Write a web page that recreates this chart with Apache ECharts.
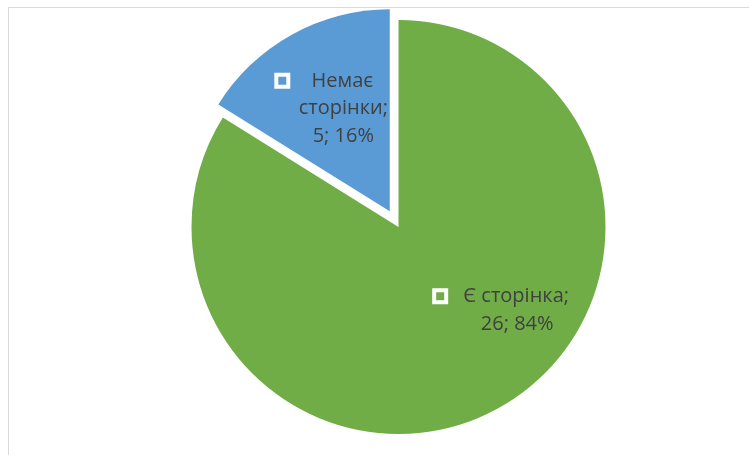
<!DOCTYPE html>
<html>
<head>
<meta charset="utf-8">
<script src="https://cdn.jsdelivr.net/npm/echarts@6/dist/echarts.min.js"></script>
<style>
  html, body { margin: 0; padding: 0; width: 749px; height: 455px; overflow: hidden; background: #fff; }
  #frame { position: absolute; left: 8px; top: 7px; width: 900px; height: 600px; border: 1px solid #d9d9d9; }
  #pieDom { position: absolute; left: 0; top: 0; width: 749px; height: 455px; }
</style>
</head>
<body>
<div id="frame"></div>
<div id="pieDom"></div>
<script>
// дані
const categories = ['Є сторінка', 'Немає\nсторінки'];
const values = [26, 5];
const colors = ['#70ad47', '#5b9bd5'];

const pieDom = document.getElementById('pieDom');
const chart = echarts.init(pieDom);

// ширина текстового блоку і відступ від маркера для кожного підпису
const textWidth = [108, 88];
const boxGap = [16, 10];
const labelShift = [[67, -10], [4, -12]];

const makeLabel = (idx) => ({
    show: true,
    position: 'inside',
    color: '#404040',
    fontFamily: 'Open Sans',
    fontSize: 20,
    lineHeight: 27.5,
    formatter: (params) => {
        const lines = (params.name + ';').split('\n');
        lines.push(params.value + '; ' + Math.round(params.percent) + '%');
        return lines.map((l, i) => i === 0
            ? '{box|}{gap|}{t|' + l + '}{pad|}'
            : '{t|' + l + '}').join('\n');
    },
    rich: {
        box: { width: 12, height: 12, borderColor: '#fff', borderWidth: 4 },
        gap: { width: boxGap[idx] },
        pad: { width: boxGap[idx] + 14 },
        t: { width: textWidth[idx], align: 'center', color: '#404040', fontFamily: 'Open Sans', fontSize: 20, lineHeight: 27.5 },
    },
});

const hidden = { itemStyle: { color: 'rgba(0,0,0,0)' }, label: { show: false }, emphasis: { disabled: true } };

const option = {
    animation: false,
    series: [
        {
            // зелений сектор
            type: 'pie',
            center: [398.5, 227],
            radius: 207,
            startAngle: 90,
            silent: true,
            labelLayout: () => ({ dx: labelShift[0][0], dy: labelShift[0][1] }),
            data: [
                { name: categories[0], value: values[0], itemStyle: { color: colors[0] }, label: makeLabel(0) },
                Object.assign({ name: categories[1], value: values[1] }, hidden),
            ],
        },
        {
            // висунутий синій сектор
            type: 'pie',
            center: [398.5, 227],
            radius: 202,
            startAngle: 90,
            silent: true,
            selectedMode: 'single',
            selectedOffset: 18,
            labelLayout: () => ({ dx: labelShift[1][0], dy: labelShift[1][1] }),
            data: [
                Object.assign({ name: categories[0], value: values[0] }, hidden),
                { name: categories[1], value: values[1], selected: true, itemStyle: { color: colors[1] }, label: makeLabel(1) },
            ],
        },
    ],
};

chart.setOption(option);
</script>
</body>
</html>
